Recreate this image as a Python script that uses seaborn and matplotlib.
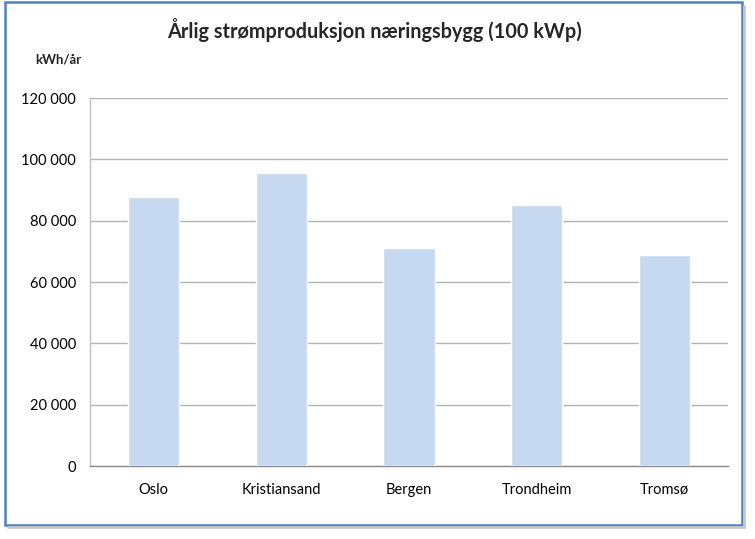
import matplotlib
matplotlib.use("Agg")
import matplotlib.pyplot as plt
import seaborn as sns
import pandas as pd
from matplotlib.patches import Rectangle
from matplotlib.lines import Line2D
from matplotlib.ticker import FuncFormatter, MultipleLocator

cities = ["Oslo", "Kristiansand", "Bergen", "Trondheim", "Tromsø"]
production = [87600, 95500, 71100, 85100, 68800]

title = "Årlig strømproduksjon næringsbygg (100 kWp)"
unit_label = "kWh/år"

sns.set_theme(style="white")
plt.rcParams['font.family'] = ['Lato', 'DejaVu Sans']

df = pd.DataFrame({"city": cities, "kwh": production})

fig = plt.figure(figsize=(7.55, 5.39), dpi=100)
ax = fig.add_axes([90/755, 1-466/539, (728-90)/755, (466-98)/539])

sns.barplot(data=df, x="city", y="kwh", color="#C6D9F1", width=0.4,
            saturation=1, ax=ax, zorder=3)

ax.set_ylim(0, 120000)
ax.yaxis.set_major_locator(MultipleLocator(20000))
ax.yaxis.set_major_formatter(FuncFormatter(lambda v, p: f"{int(v):,}".replace(",", " ")))
ax.grid(axis="y", color="#B3B3B3", linewidth=1, zorder=0)
ax.set_axisbelow(True)
ax.set_xlabel("")
ax.set_ylabel("")
for s in ["top", "right"]:
    ax.spines[s].set_visible(False)
ax.spines["left"].set_color("#BFBFBF")
ax.spines["bottom"].set_color("#8C8C8C")
ax.spines["left"].set_linewidth(1)
ax.spines["bottom"].set_linewidth(1)
ax.tick_params(axis="y", length=0, pad=10, labelsize=10.5, colors="black")
ax.tick_params(axis="x", length=0, pad=12, labelsize=10.5, colors="black")

fig.text(374/755, 1-30/539, title, ha="center", va="center",
         fontsize=14.3, fontweight="bold")
fig.text(58/755, 1-60/539, unit_label, ha="center", va="center",
         fontsize=9.5, fontweight="bold")

# chart border with soft shadow on right and bottom
W, H = 755, 539
fig.lines.append(Line2D([744/W, 744/W], [1-6/H, 1-527/H], transform=fig.transFigure,
                        color="#C8C8C8", linewidth=2))
fig.lines.append(Line2D([8/W, 744/W], [1-527/H, 1-527/H], transform=fig.transFigure,
                        color="#C8C8C8", linewidth=2))
fig.patches.append(Rectangle((5/W, 1-525/H), (742-5)/W, (525-2)/H,
                             transform=fig.transFigure, fill=False,
                             edgecolor="#4F81BD", linewidth=1.8, zorder=1))

fig.savefig("out.png", dpi=100)
